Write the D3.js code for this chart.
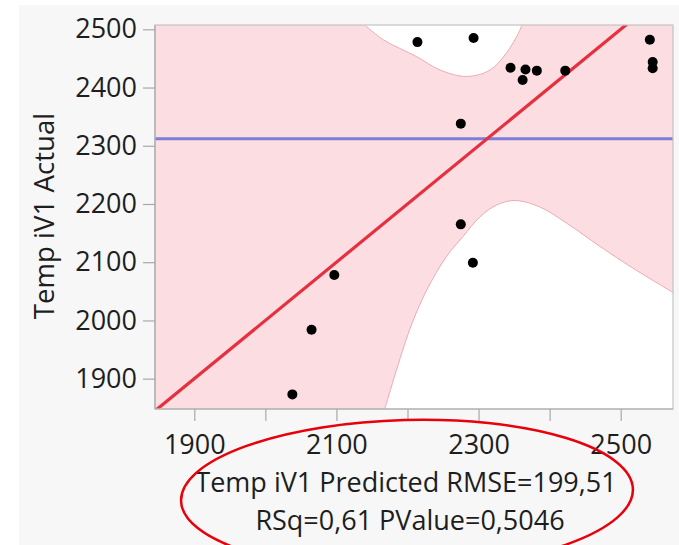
<!DOCTYPE html>
<html>
<head>
<meta charset="utf-8">
<script src="https://cdn.jsdelivr.net/npm/d3@7/dist/d3.min.js"></script>
<style>
  html, body { margin: 0; padding: 0; background: #ffffff; }
  svg { display: block; }
  text { font-family: "Open Sans", "Noto Sans", sans-serif; fill: #1e1e1e; }
</style>
</head>
<body>
<svg id="chart" width="679" height="545"></svg>
<script>
// Actual by predicted values for Temp iV1
const predicted = [2038, 2065, 2097, 2275, 2292, 2275, 2214, 2293, 2345, 2366, 2362, 2382, 2422, 2541, 2545, 2545];
const actual    = [1873, 1984, 2078, 2165, 2099, 2338, 2478, 2485, 2434, 2431, 2413, 2429, 2429, 2482, 2444, 2433];

// Confidence curves around the fit line
const upperX = [2140, 2166, 2213, 2246, 2283, 2316, 2339, 2356, 2361];
const upperY = [2507.4, 2482, 2453, 2430, 2419, 2430, 2459, 2493, 2507.4];
const lowerX = [2168, 2203, 2227, 2255, 2278, 2302, 2325, 2351, 2386, 2424, 2471, 2517, 2573.6];
const lowerY = [1847.9, 1984, 2052, 2110, 2144, 2178, 2198, 2206, 2195, 2167, 2127, 2090, 2048];

// Fit line: actual = slope * predicted + intercept
const fitSlope = 1;
const fitIntercept = 0;

const xTicks = [1900, 2000, 2100, 2200, 2300, 2400, 2500];
const xTickLabels = ["1900", "", "2100", "", "2300", "", "2500"];
const yTicks = [1900, 2000, 2100, 2200, 2300, 2400, 2500];

const xTitle = "Temp iV1 Predicted RMSE=199,51";
const xSubtitle = "RSq=0,61 PValue=0,5046";
const yTitle = "Temp iV1 Actual";

const xDomain = [1844.7, 2573.6];
const yDomain = [1847.9, 2507.4];

const svg = d3.select("#chart");
const plot = { left: 155, top: 25, right: 673, bottom: 409 };

const x = d3.scaleLinear().domain(xDomain).range([plot.left, plot.right]);
const y = d3.scaleLinear().domain(yDomain).range([plot.bottom, plot.top]);

// panel background
svg.append("rect").attr("x", 19).attr("y", 5).attr("width", 660).attr("height", 540).attr("fill", "#f7f7f7");

svg.append("defs").append("clipPath").attr("id", "plotClip")
  .append("rect").attr("x", plot.left).attr("y", plot.top)
  .attr("width", plot.right - plot.left).attr("height", plot.bottom - plot.top);

svg.append("rect").attr("x", plot.left).attr("y", plot.top)
  .attr("width", plot.right - plot.left).attr("height", plot.bottom - plot.top)
  .attr("fill", "#ffffff");

const g = svg.append("g").attr("clip-path", "url(#plotClip)");

// confidence band
const upperPts = upperX.map((v, i) => [v, upperY[i]]);
const lowerPts = lowerX.map((v, i) => [v, lowerY[i]]);
const curveLine = d3.line().x(d => x(d[0])).y(d => y(d[1])).curve(d3.curveCatmullRom.alpha(0.5));

const upperPath = curveLine(upperPts);
const lowerRevPath = curveLine(lowerPts.slice().reverse());
const bandPath =
  `M${x(xDomain[0])},${y(yDomain[1])}` +
  upperPath.replace(/^M/, "L") +
  `L${x(xDomain[1])},${y(yDomain[1])}` +
  lowerRevPath.replace(/^M/, "L") +
  `L${x(xDomain[0])},${y(yDomain[0])}Z`;

g.append("path").attr("d", bandPath).attr("fill", "#fcdde2");
g.append("path").attr("d", upperPath).attr("fill", "none").attr("stroke", "#eeaab3").attr("stroke-width", 1);
g.append("path").attr("d", curveLine(lowerPts)).attr("fill", "none").attr("stroke", "#eeaab3").attr("stroke-width", 1);

// mean of actual (horizontal reference)
const meanActual = d3.mean(actual);
g.append("line")
  .attr("x1", x(xDomain[0])).attr("x2", x(xDomain[1]))
  .attr("y1", y(meanActual)).attr("y2", y(meanActual))
  .attr("stroke", "#7a7fdc").attr("stroke-width", 3);

// fit line
g.append("line")
  .attr("x1", x(xDomain[0])).attr("y1", y(fitSlope * xDomain[0] + fitIntercept))
  .attr("x2", x(xDomain[1])).attr("y2", y(fitSlope * xDomain[1] + fitIntercept))
  .attr("stroke", "#e5303f").attr("stroke-width", 3.2);

// points
g.selectAll("circle.pt").data(predicted.map((p, i) => [p, actual[i]]))
  .enter().append("circle").attr("class", "pt")
  .attr("cx", d => x(d[0])).attr("cy", d => y(d[1])).attr("r", 5)
  .attr("fill", "#000000");

// frame
svg.append("rect").attr("x", plot.left).attr("y", plot.top)
  .attr("width", plot.right - plot.left).attr("height", plot.bottom - plot.top)
  .attr("fill", "none").attr("stroke", "#c4c4c4").attr("stroke-width", 1.2);
svg.append("line").attr("x1", plot.left).attr("x2", plot.left).attr("y1", plot.top).attr("y2", plot.bottom)
  .attr("stroke", "#a9a9a9").attr("stroke-width", 1.2);
svg.append("line").attr("x1", plot.left).attr("x2", plot.right).attr("y1", plot.bottom).attr("y2", plot.bottom)
  .attr("stroke", "#a9a9a9").attr("stroke-width", 1.2);

// axes
const xAxis = d3.axisBottom(x).tickValues(xTicks).tickSize(12).tickPadding(14)
  .tickFormat((d, i) => xTickLabels[i]);
const gx = svg.append("g").attr("transform", `translate(0,${plot.bottom})`).call(xAxis);
gx.select(".domain").remove();
gx.selectAll(".tick line").attr("stroke", "#a9a9a9").attr("stroke-width", 1.2);
gx.selectAll(".tick text").attr("font-size", 27).attr("fill", "#1e1e1e")
  .attr("font-family", "'Open Sans', sans-serif");

const yAxis = d3.axisLeft(y).tickValues(yTicks).tickSize(12).tickPadding(6).tickFormat(d3.format("d"));
const gy = svg.append("g").attr("transform", `translate(${plot.left},0)`).call(yAxis);
gy.select(".domain").remove();
gy.selectAll(".tick line").attr("stroke", "#a9a9a9").attr("stroke-width", 1.2);
gy.selectAll(".tick text").attr("font-size", 27).attr("fill", "#1e1e1e")
  .attr("font-family", "'Open Sans', sans-serif");

// titles
svg.append("text").attr("x", 406).attr("y", 492).attr("text-anchor", "middle")
  .attr("font-size", 27).text(xTitle);
svg.append("text").attr("x", 410).attr("y", 530).attr("text-anchor", "middle")
  .attr("font-size", 27).text(xSubtitle);
svg.append("text").attr("transform", "translate(54,216) rotate(-90)").attr("text-anchor", "middle")
  .attr("font-size", 27.6).text(yTitle);

// highlight ring round the fit statistics
svg.append("ellipse").attr("cx", 407).attr("cy", 495).attr("rx", 226).attr("ry", 75)
  .attr("transform", "rotate(-1.5,407,495)")
  .attr("fill", "none").attr("stroke", "#e8000b").attr("stroke-width", 2.5);
</script>
</body>
</html>
